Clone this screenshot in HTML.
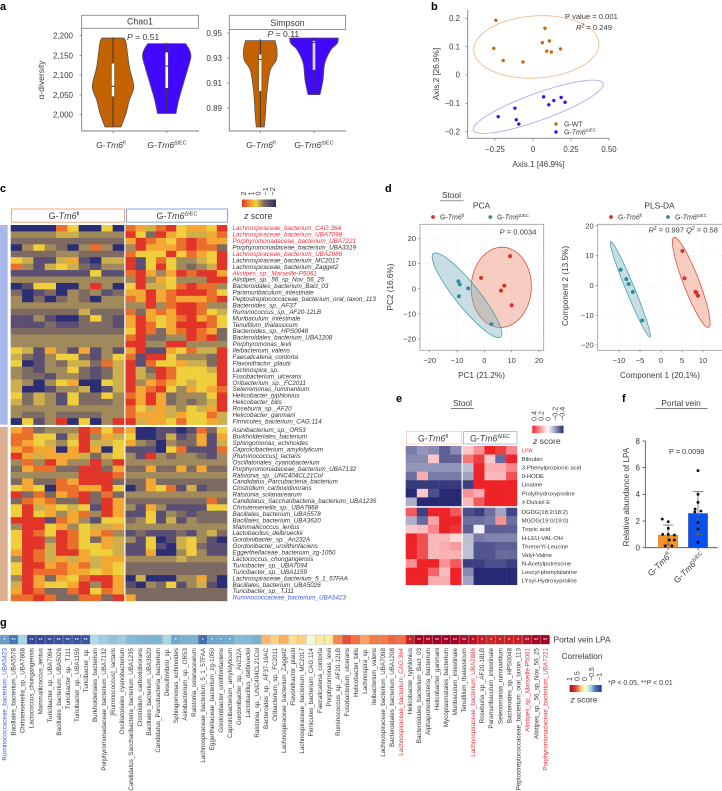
<!DOCTYPE html>
<html lang="en">
<head>
<meta charset="utf-8">
<title>Multi-panel microbiome and metabolite figure</title>
<style>
html,body{margin:0;padding:0;background:#fff;width:722px;height:791px;overflow:hidden}
svg{display:block;font-family:"Liberation Sans",Arial,sans-serif;fill:#3a3a3a}
.letter{font-size:11px;font-weight:bold;fill:#000}
</style>
</head>
<body>
<svg id="figure" xmlns="http://www.w3.org/2000/svg" width="722" height="791" viewBox="0 0 722 791">
  <defs>
    <linearGradient id="gradC"><stop offset="0" stop-color="#e23429"/><stop offset=".28" stop-color="#f4a732"/><stop offset=".42" stop-color="#f0cf3c"/><stop offset=".65" stop-color="#7d6a62"/><stop offset="1" stop-color="#2b2e72"/></linearGradient>
    <linearGradient id="gradE"><stop offset="0" stop-color="#ee2328"/><stop offset=".5" stop-color="#ffffff"/><stop offset="1" stop-color="#272a72"/></linearGradient>
    <linearGradient id="gradG"><stop offset="0" stop-color="#a50026"/><stop offset=".2" stop-color="#e34f33"/><stop offset=".38" stop-color="#fee090"/><stop offset=".5" stop-color="#ffffbf"/><stop offset=".65" stop-color="#abd9e9"/><stop offset=".8" stop-color="#4575b4"/><stop offset="1" stop-color="#313695"/></linearGradient>
  </defs>
  <text class="letter" x="0" y="10">a</text>
  <text class="letter" x="431" y="10">b</text>
  <text class="letter" x="0" y="192">c</text>
  <text class="letter" x="385" y="192">d</text>
  <text class="letter" x="396" y="402">e</text>
  <text class="letter" x="622" y="402">f</text>
  <text class="letter" x="0" y="626">g</text>
  <g id="panelA"></g>
  <g id="panelB"></g>
  <g id="panelC"></g>
  <g id="panelD"></g>
  <g id="panelE"></g>
  <g id="panelF"></g>
  <g id="panelG"></g>
</svg>
<script>
/* ---------- panel a data ---------- */
const chaoTicks = [2000, 2050, 2100, 2150, 2200];
const simpsonTicks = [0.89, 0.91, 0.93, 0.95];
const chaoFlLevels = [2194, 2180, 2122, 2071, 2037, 2003, 1969];
const chaoFlDensity = [0.44, 0.53, 0.65, 0.83, 0.65, 0.52, 0.32];
const chaoKoLevels = [2180, 2164, 2147, 2122, 2079, 2037, 2003];
const chaoKoDensity = [0.75, 0.91, 0.97, 0.87, 0.67, 0.48, 0.37];
const simpFlLevels = [0.9439, 0.9364, 0.9284, 0.9204, 0.9071, 0.8964, 0.8831, 0.8748];
const simpFlDensity = [0.59, 0.67, 0.64, 0.40, 0.29, 0.24, 0.20, 0.16];
const simpKoLevels = [0.946, 0.9417, 0.9364, 0.9257, 0.9124, 0.9007];
const simpKoDensity = [0.97, 0.93, 0.67, 0.43, 0.36, 0.24];
const chaoFlBox = [1969, 2046, 2072, 2130, 2196];
const chaoKoBox = [2002, 2067, 2123, 2158, 2182];
const simpFlBox = [0.8745, 0.9033, 0.9289, 0.9329, 0.945];
const simpKoBox = [0.9007, 0.9204, 0.9425, 0.9439, 0.9465];

/* ---------- panel b data ---------- */
const pcoaTicksX = [-0.25, 0, 0.25, 0.5];
const pcoaTicksY = [-0.2, -0.1, 0, 0.1, 0.2];
const pcoaWtX = [-0.2445, 0.079, 0.062, 0.108, 0.181, 0.09, 0.121, -0.258, -0.196, -0.066];
const pcoaWtY = [0.193, 0.165, 0.114, 0.12, 0.092, 0.084, 0.081, 0.094, 0.051, 0.046];
const pcoaKoX = [0.07, 0.137, 0.185, 0.211, 0.104, -0.119, -0.229, -0.11, -0.093];
const pcoaKoY = [-0.077, -0.09, -0.079, -0.096, -0.105, -0.117, -0.147, -0.158, -0.173];
const pcoaWtEllipse = [0.022, 0.099, 0.412, 0.008, 0.008, 0.11];
const pcoaKoEllipse = [0.035, -0.112, 0.427, 0.0825, 0.03, -0.045];

/* ---------- panel c data (colour levels 0 = -2 ... 8 = +2) ---------- */
const taxaUpperLabels = ["Lachnospiraceae_bacterium_CAG:364","Lachnospiraceae_bacterium_UBA7098","Porphyromonadaceae_bacterium_UBA7221","Porphyromonadaceae_bacterium_UBA3319","Lachnospiraceae_bacterium_UBA2886","Lachnospiraceae_bacterium_MC2017","Lachnospiraceae_bacterium_Zagget2","Alistipes_sp._Marseille-P5061","Alistipes_sp._56_sp_Nov_56_25","Bacteroidales_bacterium_Bact_03","Paramuribaculum_intestinale","Peptostreptococcaceae_bacterium_oral_taxon_113","Bacteroides_sp._AF37","Ruminococcus_sp._AF20-12LB","Muribaculum_intestinale","Tenuifilum_thalassicum","Bacteroides_sp._HPS0048","Bacteroidales_bacterium_UBA1208","Porphyromonas_levii","Ileibacterium_valens","Faecalicatena_contorta","Flavonifractor_plautii","Lachnospira_sp.","Fusobacterium_ulcerans","Oribacterium_sp._FC2011","Selenomonas_ruminantium","Helicobacter_typhlonius","Helicobacter_bilis","Roseburia_sp._AF20","Helicobacter_ganmani","Firmicutes_bacterium_CAG:114"];
const taxaLowerLabels = ["Asinibacterium_sp._OR53","Burkholderiales_bacterium","Sphingomonas_echinoides","Caproicibacterium_amylolyticum","[Ruminococcus]_lactaris","Oscillatoriales_cyanobacterium","Porphyromonadaceae_bacterium_UBA7132","Ralstonia_sp._UNC404CL21Col","Candidatus_Parcubacteria_bacterium","Clostridium_carboxidivorans","Ralstonia_solanacearum","Candidatus_Saccharibacteria_bacterium_UBA1235","Christensenella_sp._UBA7868","Bacillales_bacterium_UBA5578","Bacillales_bacterium_UBA3620","Mammaliicoccus_lentus","Lactobacillus_delbrueckii","Gordonibacter_sp._An232A","Gordonibacter_urolithinfaciens","Eggerthellaceae_bacterium_zg-1050","Lactococcus_chungangensis","Turicibacter_sp._UBA7094","Turicibacter_sp._UBA1159","Lachnospiraceae_bacterium_5_1_57FAA","Bacillales_bacterium_UBA5026","Turicibacter_sp._TJ11","Ruminococcaceae_bacterium_UBA5423"];
const taxaRed = ["Lachnospiraceae_bacterium_CAG:364","Lachnospiraceae_bacterium_UBA7098","Porphyromonadaceae_bacterium_UBA7221","Alistipes_sp._Marseille-P5061","Lachnospiraceae_bacterium_UBA2886"];
const taxaBlue = ["Ruminococcaceae_bacterium_UBA5423"];
const upperLeft = [
[0,0,0,0,7,5,0,0,5,0],[3,3,3,3,4,4,3,3,3,3],[2,2,2,2,2,2,2,2,2,2],[0,3,5,3,2,0,3,7,3,0],[2,2,2,2,3,3,2,2,2,2],
[5,4,1,1,4,6,1,0,4,4],[7,3,1,4,5,4,2,1,3,3],[1,1,1,1,1,1,1,5,1,1],[3,3,3,3,3,3,3,3,3,3],[0,1,5,5,0,0,3,8,3,0],
[2,0,1,2,0,3,2,3,1,2],[3,0,2,0,2,3,2,0,3,3],[3,3,3,3,3,3,3,3,3,3],[2,2,2,2,2,2,4,2,2,2],[1,1,3,1,0,0,2,5,2,1],
[1,1,1,2,1,1,2,2,2,1],[2,2,2,2,2,2,2,2,2,2],[3,3,3,3,3,3,3,3,3,3],[3,3,3,3,3,3,3,3,3,3],[5,4,1,6,3,1,6,1,3,1],
[4,2,1,3,5,5,2,1,3,5],[5,0,1,3,2,4,4,2,7,4],[3,2,1,3,3,5,2,1,2,4],[3,2,2,1,3,3,2,1,2,4],[4,3,0,3,5,6,0,0,5,4],
[4,0,0,1,3,3,4,0,1,4],[5,2,4,3,1,5,2,2,5,3],[4,2,4,3,1,5,2,2,2,3],[3,3,3,3,3,3,3,3,3,3],[3,2,2,3,2,2,2,2,3,3],
[0,5,1,3,8,0,5,0,3,8]];
const upperRight = [
[7,6,4,7,8,5,6,6,5,8],[8,5,2,8,6,5,4,4,6,7],[6,8,7,6,5,7,8,7,6,6],[3,8,6,6,6,7,8,7,7,2],[7,5,5,5,8,5,7,6,5,8],
[8,1,5,7,5,3,3,4,5,8],[8,1,5,8,5,3,2,3,4,8],[7,8,6,3,6,8,7,8,8,6],[3,8,3,6,5,3,3,3,8,8],[5,8,4,4,5,7,8,7,7,3],
[6,6,8,6,7,8,8,8,7,5],[7,6,8,6,7,6,6,6,7,8],[3,3,8,3,7,8,8,7,3,3],[7,2,6,7,6,8,8,7,5,4],[6,8,6,5,6,7,8,6,7,5],
[6,8,7,5,6,8,8,8,7,5],[5,8,7,2,6,7,8,7,6,2],[7,8,2,2,3,3,8,7,8,2],[8,8,3,3,8,8,3,3,3,3],[6,8,1,1,6,5,7,4,4,8],
[7,1,8,8,5,3,3,3,2,8],[8,1,7,5,5,6,4,4,2,8],[8,4,2,8,7,5,5,5,4,8],[8,4,3,8,7,5,5,5,5,8],[8,3,6,7,6,5,4,5,5,8],
[8,6,7,8,5,3,6,5,6,7],[7,6,8,6,2,3,3,3,5,8],[8,6,8,6,2,3,2,3,4,8],[7,5,4,6,4,3,5,4,6,8],[7,6,6,6,4,6,5,5,7,4],
[8,4,6,6,5,7,5,5,6,4]];
const lowerLeft = [
[6,7,2,3,3,3,8,7,5,7],[7,7,5,5,1,4,8,3,6,4],[7,6,5,4,3,5,8,4,4,5],[6,7,6,6,0,6,8,6,0,5],[8,6,4,6,6,6,4,2,4,5],
[3,7,3,8,6,3,3,8,3,8],[2,6,7,7,2,2,8,8,2,6],[3,3,3,3,3,3,8,8,8,7],[2,6,2,2,7,6,8,8,8,2],[5,6,5,0,7,7,6,6,8,5],
[8,2,7,2,6,7,8,2,7,2],[2,7,6,7,2,2,8,2,8,6],[5,8,4,6,5,4,5,1,8,6],[5,8,5,6,3,6,7,3,8,6],[8,8,8,1,7,6,3,1,5,5],
[3,8,8,5,6,3,5,4,4,6],[5,8,7,5,8,7,5,6,7,3],[5,8,8,3,8,7,5,2,6,4],[5,8,8,4,8,7,5,5,6,4],[6,8,7,4,8,8,6,5,5,4],
[3,8,7,4,6,4,6,4,6,6],[5,8,8,6,7,6,7,4,6,5],[5,8,7,7,7,6,6,5,6,5],[3,8,6,2,6,5,7,8,8,6],[4,8,6,5,5,6,8,3,8,6],
[6,8,7,2,2,7,8,5,7,6],[7,7,8,7,2,2,7,7,2,8]];
const lowerRight = [
[6,0,0,1,1,0,1,7,2,5],[5,0,0,1,4,1,2,6,1,6],[6,3,2,0,3,2,2,6,1,4],[1,1,1,0,5,7,1,1,1,7],[3,1,8,3,2,3,3,2,1,3],
[3,3,3,3,3,3,3,3,3,3],[2,2,6,2,2,6,2,6,2,2],[3,3,3,3,3,3,3,3,3,3],[2,2,6,2,2,2,2,2,2,2],[0,2,6,5,7,1,4,1,2,2],
[3,3,3,3,3,3,3,3,3,3],[2,2,2,2,2,2,2,2,7,2],[3,1,6,3,1,1,1,1,5,5],[1,1,5,1,3,2,1,2,2,2],[2,3,5,1,4,1,3,2,2,2],
[3,3,3,3,3,3,3,3,3,3],[1,2,1,1,1,2,1,3,4,2],[3,1,5,0,1,4,5,3,1,0],[1,1,5,1,0,4,5,2,1,1],[1,1,6,0,0,3,5,3,1,1],
[3,3,3,3,3,4,3,3,3,3],[2,2,2,2,2,2,2,2,2,2],[2,2,2,2,2,2,2,2,2,2],[0,4,0,0,0,3,3,6,2,0],[1,0,3,2,5,1,3,4,1,0],
[2,2,2,2,2,2,2,2,2,2],[6,2,2,2,2,2,2,2,2,2]];
const taxaLegendTicks = ["2","1","0","−1","−2"];

/* ---------- panel d data ---------- */
const pcaTicks = [-20, -10, 0, 10, 20];
const pcaFlX = [9.4, -1.2, 7.3, 6.1, 10];
const pcaFlY = [12.9, 4.3, 1.2, -0.8, -6.6];
const pcaKoX = [-9.5, -9, -5.9, -9.3, 2.6];
const pcaKoY = [2.9, 1.7, 0.1, -3, -14.1];
const pcaFlEllipse = [6.2, 0.53, 0.98, 15.9, 10.98, -1.05];
const pcaKoEllipse = [-6.34, -2.63, 12.3, -16.6, 3.4, 2.9];
const plsTicksX = [-10, -5, 0, 5, 10];
const plsTicksY = [-20, -10, 0, 10, 20];
const plsFlX = [5.1, 5.6, 8.2, 8.4, 8.8];
const plsFlY = [11.5, 2.4, -2.2, -2.5, -3.5];
const plsKoX = [-9.6, -8.25, -7.7, -6.7, -4.5];
const plsKoY = [5.25, 2.1, 0.45, -2.2, -11.8];
const plsFlEllipse = [7.2, 1, 4.13, -15.1, 1.75, 0.96];
const plsKoEllipse = [-7.3, -1.34, 4.68, -16, 0.95, 0.56];

/* ---------- panel e data ---------- */
const metabUpperLabels = ["LPA","Bilirubin","3-Phenylpropionic acid","9-HODE","Linatine","Prolylhydroxyproline","±-Dulciol E"];
const metabLowerLabels = ["DGDG(18:2/18:2)","MGDG(19:0/19:0)","Tropic acid","H-LEU-VAL-OH","ThreonYl-Leucine","Valyl-Valine","N-Acetylputrescine","Leucyl-phenylalanine","LYsyl-Hydroxyproline"];
const metabUpper = [
[-.25,-.2,-.22,-.3,-.22,.1,.2,.4,.35,.22],[-.22,-.22,.1,-.3,-.3,.25,.35,.1,-.28,.4],[-.2,-.2,-.2,-.2,-.2,-.12,.4,.15,.15,.22],
[-.27,.15,-.25,-.25,-.25,-.17,.4,.13,.13,.32],[-.37,-.37,-.37,-.37,-.37,-.36,.4,.4,.4,.4],[-.4,.1,-.33,-.4,-.4,.2,.15,.4,.4,.4],[-.15,-.4,-.4,-.4,-.4,.13,.3,.4,.4,.4]];
const metabLower = [
[.3,-.36,.4,.4,.3,-.33,-.36,-.27,-.17,-.35],[-.15,-.28,.17,.4,.4,-.27,-.27,-.25,.2,-.27],[.1,.12,.22,.4,.37,-.3,-.03,-.3,-.3,-.3],
[.4,.32,.13,.13,.07,-.12,-.25,-.23,-.23,-.23],[.4,.32,.13,.15,.18,-.12,-.32,-.32,-.3,-.3],[.4,.32,.13,.14,.14,-.12,-.32,-.32,-.28,-.28],
[.2,.4,.4,.2,.3,-.36,-.36,-.33,-.33,-.36],[.4,.4,.28,.12,.4,-.22,-.4,-.4,-.4,-.4],[.4,.4,.15,.15,.4,-.17,-.4,-.4,-.4,-.4]];
const metabLegendTicks = ["0.4","0.2","0","−0.2","−0.4"];

/* ---------- panel f data ---------- */
const lpaTicks = [0, 2, 4, 6, 8];
const lpaBars = [0.95, 2.57];
const lpaErrUpper = [1.7, 4.2];
const lpaErrLower = [0.2, 1.0];
const lpaFlValues = [2.15, 1.95, 1.45, 1.0, 1.0, 0.95, 0.58, 0.13, 0.13, 0.58];
const lpaFlJitter = [-0.59, 0.03, 0.03, -0.55, 0.03, 0.66, 0.14, -0.28, 0.41, 0.66];
const lpaKoValues = [5.78, 4, 3.4, 2.9, 2.75, 2.68, 1.88, 1.4, 0.4];
const lpaKoJitter = [0, 0, 0, -0.3, 0.3, -0.33, 0, 0, 0];

/* ---------- panel g data ---------- */
const corrLabels = ["Ruminococcaceae_bacterium_UBA5423","Bacillales_bacterium_UBA5578","Christensenella_sp._UBA7868","Lactococcus_chungangensis","Mammaliicoccus_lentus","Turicibacter_sp._UBA7094","Bacillales_bacterium_UBA5026","Turicibacter_sp._TJ11","Turicibacter_sp._UBA1159","Turicibacter_sp.","Burkholderiales_bacterium","Porphyromonadaceae_bacterium_UBA7132","[Ruminococcus]_lactaris","Oscillatoriales_cyanobacterium","Candidatus_Saccharibacteria_bacterium_UBA1235","Clostridium_carboxidivorans","Bacillales_bacterium_UBA3620","Candidatus_Parcubacteria_bacterium","Desulfovibrio_sp.","Sphingomonas_echinoides","Asinibacterium_sp._OR53","Ralstonia_solanacearum","Lachnospiraceae_bacterium_5_1_57FAA","Eggerthellaceae_bacterium_zg-1050","Gordonibacter_urolithinfaciens","Caproicibacterium_amylolyticum","Gordonibacter_sp._An232A","Lactobacillus_delbrueckii","Ralstonia_sp._UNC404CL21Col","Bacteroides_sp._AF37-16AC","Oribacterium_sp._FC2011","Lachnospiraceae_bacterium_Zagget2","Flavonifractor_plautii","Lachnospiraceae_bacterium_MC2017","Firmicutes_bacterium_CAG:114","Faecalicatena_contorta","Porphyromonas_levii","Ruminococcus_sp._AF20-12LB","Fusobacterium_ulcerans","Helicobacter_bilis","Lachnospira_sp.","Ileibacterium_valens","Lachnospiraceae_bacterium_UBA7098","Bacteroidales_bacterium_UBA1208","Lachnospiraceae_bacterium_CAG:364","Helicobacter_typhlonius","Bacteroidales_bacterium_Bact_03","Alphaproteobacteria_bacterium","Helicobacter_ganmani","Mycoplasmatales_bacterium","Muribaculum_intestinale","Tenuifilum_thalassicum","Lachnospiraceae_bacterium_UBA2886","Roseburia_sp._AF20-18LB","Paramuribaculum_intestinale","Selenomonas_ruminantium","Bacteroides_sp._HPS0048","Peptostreptococcaceae_bacterium_oral_taxon_113","Alistipes_sp._Marseille-P5061","Alistipes_sp._56_sp_Nov_56_25","Porphyromonadaceae_bacterium_UBA7221"];
const corrValues = [-.65,-.8,-.42,-.95,-.95,-.93,-.92,-.9,-.9,-.9,-.38,-.45,-.5,-.46,-.53,-.56,-.57,-.57,-.42,-.62,-.58,-.58,-.83,-.62,-.62,-.61,-.53,-.55,-.58,.37,.25,.4,.2,.27,-.08,.12,.13,.52,.7,.6,.43,.56,.55,.63,.6,.85,1,.97,1,1,1,.96,.92,.87,.84,.86,.86,.86,.93,.98,1];
const corrStars = ["*","**","","**","**","**","**","**","**","**","","","","","","","","","","*","","","*","*","*","*","","","","","","","","","","","","","","","","","","","","*","**","**","**","**","**","**","*","*","*","*","*","*","**","**","**"];
const corrLegendTicks = ["1","0.5","0","−0.5","−1"];

/* ---------- helpers ---------- */
const NS = "http://www.w3.org/2000/svg";
const INK = "#3a3a3a", AXIS = "#808080";
function mk(tag, parent, attrs) {
  const e = document.createElementNS(NS, tag);
  for (const k in attrs) e.setAttribute(k, attrs[k]);
  parent.appendChild(e);
  return e;
}
function txt(parent, x, y, s, size, attrs) {
  const e = mk("text", parent, Object.assign({x: x, y: y, "font-size": size}, attrs || {}));
  e.textContent = s;
  return e;
}
function linear(d0, d1, r0, r1) { return v => r0 + (v - d0) * (r1 - r0) / (d1 - d0); }
function strainLabel(parent, x, y, suffix, size, attrs) {
  const e = mk("text", parent, Object.assign({x: x, y: y, "font-size": size}, attrs || {}));
  const a = mk("tspan", e, {}); a.textContent = "G-";
  const b = mk("tspan", e, {"font-style": "italic"}); b.textContent = "Tm6";
  const c = mk("tspan", e, {"font-size": size * 0.62, dy: -size * 0.4}); c.textContent = suffix;
  return e;
}
function mixHex(a, b, t) {
  const p = h => [1, 3, 5].map(i => parseInt(h.substr(i, 2), 16));
  const A = p(a), B = p(b);
  return "rgb(" + A.map((v, i) => Math.round(v + (B[i] - v) * t)).join(",") + ")";
}
function ramp(stops, t) {
  t = Math.max(0, Math.min(1, t));
  const f = t * (stops.length - 1), i = Math.min(stops.length - 2, Math.floor(f));
  return mixHex(stops[i], stops[i + 1], f - i);
}
function ellipsePath(p, fx, fy) {
  let d = "";
  for (let i = 0; i <= 72; i++) {
    const t = i / 72 * 2 * Math.PI;
    const X = p[0] + p[2] * Math.cos(t) + p[4] * Math.sin(t);
    const Y = p[1] + p[3] * Math.cos(t) + p[5] * Math.sin(t);
    d += (i ? "L" : "M") + fx(X).toFixed(2) + " " + fy(Y).toFixed(2);
  }
  return d + "Z";
}
function smoothEdge(pts) {
  let d = "";
  for (let i = 0; i < pts.length - 1; i++) {
    const p0 = pts[Math.max(0, i - 1)], p1 = pts[i], p2 = pts[i + 1], p3 = pts[Math.min(pts.length - 1, i + 2)];
    d += "C" + (p1[0] + (p2[0] - p0[0]) / 6).toFixed(2) + " " + (p1[1] + (p2[1] - p0[1]) / 6).toFixed(2) + " " +
      (p2[0] - (p3[0] - p1[0]) / 6).toFixed(2) + " " + (p2[1] - (p3[1] - p1[1]) / 6).toFixed(2) + " " +
      p2[0].toFixed(2) + " " + p2[1].toFixed(2);
  }
  return d;
}

/* ---------- panel a ---------- */
(function () {
  const g = document.getElementById("panelA");
  const chaoY = linear(2000, 2200, 114.7, 35.7), simpY = linear(0.89, 0.95, 108, 33);
  const widthScale = 25;
  function violin(levels, density, box, cx, fy, fill, boxFill, name) {
    const right = levels.map((v, i) => [cx + density[i] * widthScale, fy(v)]);
    const left = levels.map((v, i) => [cx - density[i] * widthScale, fy(v)]).reverse();
    const d = "M" + (cx - density[0] * widthScale) + " " + fy(levels[0]) + "L" + right[0][0] + " " + right[0][1] +
      smoothEdge(right) + "L" + left[0][0] + " " + left[0][1] + smoothEdge(left) + "Z";
    const body = mk("path", g, {d: d, fill: fill, stroke: "#555", "stroke-width": 0.8});
    
    
    const whisker = mk("line", g, {x1: cx, x2: cx, y1: fy(box[0]), y2: fy(box[4]), stroke: "#3c3a3a", "stroke-width": 1});
    
    
    const rect = mk("rect", g, {x: cx - 1.5, width: 3, y: fy(box[3]), height: fy(box[1]) - fy(box[3]), fill: boxFill, stroke: "#444", "stroke-width": 0.4});
    
    
    const med = mk("line", g, {x1: cx - 1.5, x2: cx + 1.5, y1: fy(box[2]), y2: fy(box[2]), stroke: "#333", "stroke-width": 1});
    
    
  }
  function frame(x0, x1, yTop, yBot, title, titleX) {
    const strip = mk("rect", g, {x: x0, y: 15.3, width: x1 - x0, height: yTop - 15.3, fill: "#fff", stroke: "#8a8a8a", "stroke-width": 0.9});
    
    
    const t = txt(g, titleX, yTop - 3.7, title, 8.8, {"text-anchor": "middle", fill: INK});
    
    
    const ax = mk("path", g, {d: "M" + x0 + " " + yTop + "V" + yBot + "H" + (x1 + 0.5), fill: "none", stroke: AXIS, "stroke-width": 0.9});
    
    
  }
  frame(81.7, 198.5, 28.3, 131, "Chao1", 140);
  frame(229.3, 345.6, 29.5, 131, "Simpson", 287.5);
  chaoTicks.forEach(v => {
    const tk = mk("line", g, {x1: 79.5, x2: 81.7, y1: chaoY(v), y2: chaoY(v), stroke: AXIS, "stroke-width": 0.8});
    
    
    const lb = txt(g, 73, chaoY(v) + 2.8, v.toLocaleString("en-US"), 8, {"text-anchor": "end", fill: INK});
    
    
  });
  simpsonTicks.forEach(v => {
    const tk = mk("line", g, {x1: 227, x2: 229.3, y1: simpY(v), y2: simpY(v), stroke: AXIS, "stroke-width": 0.8});
    
    
    const lb = txt(g, 222, simpY(v) + 2.8, v.toFixed(2), 8, {"text-anchor": "end", fill: INK});
    
    
  });
  violin(chaoFlLevels, chaoFlDensity, chaoFlBox, 113, chaoY, "#c46200", "#fff", "chao1-fl");
  violin(chaoKoLevels, chaoKoDensity, chaoKoBox, 166.7, chaoY, "#4208ff", "#fff", "chao1-ko");
  violin(simpFlLevels, simpFlDensity, simpFlBox, 260.3, simpY, "#c46200", "#fff", "simpson-fl");
  violin(simpKoLevels, simpKoDensity, simpKoBox, 314, simpY, "#4208ff", "#d4d4d4", "simpson-ko");
  [113, 166.7, 260.3, 314].forEach(x => {
    const tk = mk("line", g, {x1: x, x2: x, y1: 131, y2: 133.2, stroke: AXIS, "stroke-width": 0.8});
    
    
  });
  [[111, "fl"], [167, "ΔIEC"], [261, "fl"], [314, "ΔIEC"]].forEach(c => {
    const e = strainLabel(g, c[0], 148, c[1], 8.6, {"text-anchor": "middle", fill: INK});
    
    
  });
  const yl = txt(g, 0, 0, "α-diversity", 8.5, {"text-anchor": "middle", fill: INK, transform: "translate(44,80) rotate(-90)"});
  
  
  [[127, 40, "0.51"], [267.5, 37, "0.11"]].forEach(c => {
    const e = mk("text", g, {x: c[0], y: c[1], "font-size": 8.6, fill: INK});
    const i = mk("tspan", e, {"font-style": "italic"}); i.textContent = "P";
    const r = mk("tspan", e, {}); r.textContent = " = " + c[2];
    
    
  });
})();

/* ---------- panel b ---------- */
(function () {
  const g = document.getElementById("panelB");
  const fx = linear(0, 0.5, 533, 609), fy = linear(-0.2, 0.2, 131.7, 18.3);
  const ax = mk("path", g, {d: "M467.7 10V138.3H609", fill: "none", stroke: AXIS, "stroke-width": 0.9});
  
  
  pcoaTicksX.forEach(v => {
    const tk = mk("line", g, {x1: fx(v), x2: fx(v), y1: 138.3, y2: 140.5, stroke: AXIS, "stroke-width": 0.8});
    
    
    const lb = txt(g, fx(v), 152, v === 0 ? "0" : v.toFixed(2).replace("-", "−"), 7.8, {"text-anchor": "middle", fill: INK});
    
    
  });
  pcoaTicksY.forEach(v => {
    const tk = mk("line", g, {x1: 465.5, x2: 467.7, y1: fy(v), y2: fy(v), stroke: AXIS, "stroke-width": 0.8});
    
    
    const lb = txt(g, 460, fy(v) + 2.7, v === 0 ? "0" : v.toFixed(1).replace("-", "−"), 7.8, {"text-anchor": "end", fill: INK});
    
    
  });
  const e1 = mk("path", g, {d: ellipsePath(pcoaWtEllipse, fx, fy), fill: "none", stroke: "#efb483", "stroke-width": 0.8});
  
  
  const e2 = mk("path", g, {d: ellipsePath(pcoaKoEllipse, fx, fy), fill: "none", stroke: "#a8a0f5", "stroke-width": 0.8});
  
  
  pcoaWtX.forEach((v, i) => {
    const c = mk("circle", g, {cx: fx(v), cy: fy(pcoaWtY[i]), r: 1.7, fill: "#c8690a"});
    
    
  });
  pcoaKoX.forEach((v, i) => {
    const c = mk("circle", g, {cx: fx(v), cy: fy(pcoaKoY[i]), r: 1.7, fill: "#3d0df0"});
    
    
  });
  const t1 = txt(g, 565, 19, "P value = 0.001", 7.6, {fill: INK});
  
  
  const t2 = mk("text", g, {x: 576, y: 30, "font-size": 7.6, fill: INK});
  const r = mk("tspan", t2, {"font-style": "italic"}); r.textContent = "R";
  const r2 = mk("tspan", t2, {"font-size": 5, dy: -2.5}); r2.textContent = "2";
  const r3 = mk("tspan", t2, {dy: 2.5}); r3.textContent = " = 0.249";
  
  
  const d1 = mk("circle", g, {cx: 556, cy: 124, r: 1.7, fill: "#c8690a"});
  
  
  const d2 = mk("circle", g, {cx: 556, cy: 132, r: 1.7, fill: "#3d0df0"});
  
  
  const l1 = txt(g, 564, 126.5, "G-WT", 7, {fill: INK});
  
  
  const l2 = strainLabel(g, 564, 134.5, "ΔIEC", 7, {fill: INK});
  
  
  const xt = txt(g, 538.5, 167, "Axis.1 [46.9%]", 8.2, {"text-anchor": "middle", fill: INK});
  
  
  const yt = txt(g, 0, 0, "Axis.2 [26.9%]", 8.2, {"text-anchor": "middle", fill: INK, transform: "translate(439,74) rotate(-90)"});
  
  
})();

/* ---------- panel c ---------- */
(function () {
  const g = document.getElementById("panelC");
  const levelColors = ["#2b2e72", "#5a4f72", "#7d6a62", "#a08a5c", "#cdb04d", "#f0cf3c", "#f4a732", "#ea6f2c", "#e23429"];
  const colorOf = v => ramp(levelColors, v / 8);
  const rowH = 6.44;
  function block(rows, x0, x1, y0, name) {
    const w = (x1 - x0) / 10;
    rows.forEach((row, r) => row.forEach((v, c) => {
      const cell = mk("rect", g, {x: x0 + c * w, y: y0 + r * rowH, width: w + 0.3, height: rowH + 0.3, fill: colorOf(v)});
      
      
    }));
  }
  block(upperLeft, 10.7, 124, 225, "upper-fl");
  block(upperRight, 125.5, 227, 225, "upper-ko");
  block(lowerLeft, 10.7, 124, 427, "lower-fl");
  block(lowerRight, 125.5, 227, 427, "lower-ko");
  const s1 = mk("rect", g, {x: 0, y: 225, width: 7.7, height: 199.6, fill: "#a8b8ea"});
  
  
  const s2 = mk("rect", g, {x: 0, y: 427, width: 7.7, height: 174, fill: "#dcb091"});
  
  
  function labels(list, y0) {
    list.forEach((s, i) => {
      const fill = taxaRed.includes(s) ? "#f2303c" : taxaBlue.includes(s) ? "#3b5bf0" : "#333";
      const t = txt(g, 232.5, y0 + i * rowH + 5.2, s, 6.3, {"font-style": "italic", fill: fill});
      
      
    });
  }
  labels(taxaUpperLabels, 225);
  labels(taxaLowerLabels, 427);
  const b1 = mk("rect", g, {x: 11.5, y: 209, width: 113, height: 13.2, fill: "#fff", stroke: "#f0a878", "stroke-width": 1});
  
  
  const b2 = mk("rect", g, {x: 126.5, y: 209, width: 101, height: 13.2, fill: "#fff", stroke: "#8aa6dc", "stroke-width": 1});
  
  
  const l1 = strainLabel(g, 64, 219, "fl", 9, {"text-anchor": "middle", fill: INK});
  
  
  const l2 = strainLabel(g, 177, 219, "ΔIEC", 9, {"text-anchor": "middle", fill: INK});
  
  
  const cb = mk("rect", g, {x: 242, y: 199.5, width: 34, height: 7.5, fill: "url(#gradC)"});
  
  
  taxaLegendTicks.forEach((s, i) => {
    const t = txt(g, 0, 0, s, 7.3, {transform: "translate(" + (246 + i * 7.3) + ",195.5) rotate(-90)", fill: INK});
    
    
  });
  const z = mk("text", g, {x: 244, y: 219, "font-size": 8.8, fill: INK});
  const zi = mk("tspan", z, {"font-style": "italic"}); zi.textContent = "z";
  const zs = mk("tspan", z, {}); zs.textContent = " score";
  
  
})();

/* ---------- panel d ---------- */
(function () {
  const g = document.getElementById("panelD");
  const top = 224.3, bot = 350.3;
  function scatter(x0, x1, fx, fy, ticksX, ticksY, ell, ptsFl, ptsKo, name) {
    const box = mk("rect", g, {x: x0, y: top, width: x1 - x0, height: bot - top, fill: "#fff", stroke: "#9a9a9a", "stroke-width": 0.8});
    
    
    ticksX.forEach(v => {
      const gl = mk("line", g, {x1: fx(v), x2: fx(v), y1: top, y2: bot, stroke: "#e6e6e6", "stroke-width": 0.5, "stroke-dasharray": "1 1.2"});
      
      
      const tk = mk("line", g, {x1: fx(v), x2: fx(v), y1: bot, y2: bot + 2, stroke: AXIS, "stroke-width": 0.7});
      
      
      const lb = txt(g, fx(v), 363, String(v).replace("-", "−"), 7.5, {"text-anchor": "middle", fill: INK});
      
      
    });
    ticksY.forEach(v => {
      const gl = mk("line", g, {x1: x0, x2: x1, y1: fy(v), y2: fy(v), stroke: "#e6e6e6", "stroke-width": 0.5, "stroke-dasharray": "1 1.2"});
      
      
      const tk = mk("line", g, {x1: x0 - 2, x2: x0, y1: fy(v), y2: fy(v), stroke: AXIS, "stroke-width": 0.7});
      
      
      const lb = txt(g, x0 - 4, fy(v) + 2.7, String(v).replace("-", "−"), 7.5, {"text-anchor": "end", fill: INK});
      
      
    });
    const eFl = mk("path", g, {d: ellipsePath(ell[0], fx, fy), fill: "#e9886a", "fill-opacity": 0.42, stroke: "#d9533c", "stroke-width": 0.8});
    
    
    const eKo = mk("path", g, {d: ellipsePath(ell[1], fx, fy), fill: "#7fb0bc", "fill-opacity": 0.42, stroke: "#4a9fb0", "stroke-width": 0.8});
    
    
    ptsFl[0].forEach((v, i) => {
      const c = mk("circle", g, {cx: fx(v), cy: fy(ptsFl[1][i]), r: 2, fill: "#d7302a"});
      
      
    });
    ptsKo[0].forEach((v, i) => {
      const c = mk("circle", g, {cx: fx(v), cy: fy(ptsKo[1][i]), r: 2, fill: "#2e8f9f"});
      
      
    });
  }
  scatter(420, 543.7, linear(-20, 20, 429.7, 539), linear(-20, 20, 339, 238.3), pcaTicks, pcaTicks,
    [pcaFlEllipse, pcaKoEllipse], [pcaFlX, pcaFlY], [pcaKoX, pcaKoY], "pca");
  scatter(597.7, 722.5, linear(-10, 10, 619, 703), linear(-20, 20, 345, 225.7), plsTicksX, plsTicksY,
    [plsFlEllipse, plsKoEllipse], [plsFlX, plsFlY], [plsKoX, plsKoY], "plsda");
  const st = txt(g, 451.5, 198, "Stool", 8.4, {"text-anchor": "middle", fill: INK});
  
  
  const ul = mk("line", g, {x1: 440, x2: 463.5, y1: 200.8, y2: 200.8, stroke: "#555", "stroke-width": 0.7});
  
  
  const t1 = txt(g, 481.5, 208.5, "PCA", 8.4, {"text-anchor": "middle", fill: INK});
  
  
  const t2 = txt(g, 659.5, 208.5, "PLS-DA", 8.4, {"text-anchor": "middle", fill: INK});
  
  
  [[433, 440, "fl", "#d7302a"], [490.3, 497, "ΔIEC", "#2e8f9f"], [611, 618, "fl", "#d7302a"], [668, 675, "ΔIEC", "#2e8f9f"]].forEach(c => {
    const d = mk("circle", g, {cx: c[0], cy: 217, r: 1.9, fill: c[3]});
    
    
    const l = strainLabel(g, c[1], 219.6, c[2], 7, {fill: INK});
    
    
  });
  const p = mk("text", g, {x: 499.5, y: 234.5, "font-size": 7.6, fill: INK});
  const pi = mk("tspan", p, {"font-style": "italic"}); pi.textContent = "P";
  const pr = mk("tspan", p, {}); pr.textContent = " = 0.0034";
  
  
  const q = mk("text", g, {x: 648.5, y: 232.5, "font-size": 7.5, fill: INK});
  const q1 = mk("tspan", q, {"font-style": "italic"}); q1.textContent = "R";
  const q2 = mk("tspan", q, {"font-size": 5, dy: -2.5}); q2.textContent = "2";
  const q3 = mk("tspan", q, {dy: 2.5}); q3.textContent = " = 0.997 ";
  const q4 = mk("tspan", q, {"font-style": "italic"}); q4.textContent = "Q";
  const q5 = mk("tspan", q, {"font-size": 5, dy: -2.5}); q5.textContent = "2";
  const q6 = mk("tspan", q, {dy: 2.5}); q6.textContent = " = 0.58";
  
  
  [[481.5, 378, "PC1 (21.2%)", "pca-x-axis-title"], [660, 378, "Component 1 (20.1%)", "plsda-x-axis-title"]].forEach(c => {
    const e = txt(g, c[0], c[1], c[2], 8.2, {"text-anchor": "middle", fill: INK});
    
    
  });
  [[393, 287, "PC2 (16.6%)", "pca-y-axis-title"], [568, 286, "Component 2 (13.5%)", "plsda-y-axis-title"]].forEach(c => {
    const e = txt(g, 0, 0, c[2], 8.2, {"text-anchor": "middle", fill: INK, transform: "translate(" + c[0] + "," + c[1] + ") rotate(-90)"});
    
    
  });
})();

/* ---------- panel e ---------- */
(function () {
  const g = document.getElementById("panelE");
  const colorOf = v => v >= 0 ? mixHex("#ffffff", "#ee2328", Math.min(1, v / 0.4)) : mixHex("#ffffff", "#272a72", Math.min(1, -v / 0.4));
  const rowH = 8.57;
  function block(rows, labels, y0) {
    rows.forEach((row, r) => {
      row.forEach((v, c) => {
        const x = c < 5 ? 405.7 + c * 11.13 : 462.7 + (c - 5) * 10.87;
        const w = c < 5 ? 11.13 : 10.87;
        const cell = mk("rect", g, {x: x, y: y0 + r * rowH, width: w + 0.2, height: rowH + 0.2, fill: colorOf(v)});
        
        
      });
      const t = txt(g, 521.7, y0 + r * rowH + 6.4, labels[r], 5.9, {fill: labels[r] === "LPA" ? "#f2303c" : "#333"});
      
      
    });
  }
  block(metabUpper, metabUpperLabels, 446);
  block(metabLower, metabLowerLabels, 507.7);
  const st = txt(g, 462.5, 406, "Stool", 8.4, {"text-anchor": "middle", fill: INK});
  
  
  const ul = mk("line", g, {x1: 451, x2: 474, y1: 408.5, y2: 408.5, stroke: "#555", "stroke-width": 0.7});
  
  
  const b1 = mk("rect", g, {x: 406.5, y: 431.5, width: 55, height: 12.5, fill: "#fff", stroke: "#f3d2bb", "stroke-width": 0.9});
  
  
  const b2 = mk("rect", g, {x: 463.5, y: 431.5, width: 53.5, height: 12.5, fill: "#fff", stroke: "#a8bbdc", "stroke-width": 0.9});
  
  
  const l1 = strainLabel(g, 433, 441.5, "fl", 8.8, {"text-anchor": "middle", fill: INK});
  
  
  const l2 = strainLabel(g, 490, 441.5, "ΔIEC", 8.8, {"text-anchor": "middle", fill: INK});
  
  
  const cb = mk("rect", g, {x: 532.3, y: 425.7, width: 31.2, height: 7.5, fill: "url(#gradE)"});
  
  
  metabLegendTicks.forEach((s, i) => {
    const t = txt(g, 0, 0, s, 7.2, {transform: "translate(" + (536.5 + i * 7) + ",421) rotate(-90)", fill: INK});
    
    
  });
  const z = mk("text", g, {x: 533, y: 444, "font-size": 8.6, fill: INK});
  const zi = mk("tspan", z, {"font-style": "italic"}); zi.textContent = "z";
  const zs = mk("tspan", z, {}); zs.textContent = " score";
  
  
})();

/* ---------- panel f ---------- */
(function () {
  const g = document.getElementById("panelF");
  const fy = linear(0, 8, 547.7, 441);
  const centers = [668, 698], halfW = 9.7;
  const colors = ["#f7931e", "#0a4ff0"];
  const t = txt(g, 681, 406, "Portal vein", 8.4, {"text-anchor": "middle", fill: INK});
  
  
  const ul = mk("line", g, {x1: 655.5, x2: 707.5, y1: 408.5, y2: 408.5, stroke: "#555", "stroke-width": 0.7});
  
  
  const ax = mk("path", g, {d: "M645.3 " + fy(8) + "V" + fy(0) + "H717.7", fill: "none", stroke: "#444", "stroke-width": 0.8});
  
  
  lpaTicks.forEach(v => {
    const tk = mk("line", g, {x1: 642.5, x2: 645.3, y1: fy(v), y2: fy(v), stroke: "#444", "stroke-width": 0.8});
    
    
    const lb = txt(g, 640, fy(v) + 2.8, String(v), 8, {"text-anchor": "end", fill: INK});
    
    
  });
  lpaBars.forEach((v, i) => {
    const bar = mk("rect", g, {x: centers[i] - halfW, width: 2 * halfW, y: fy(v), height: fy(0) - fy(v), fill: colors[i], stroke: "#666", "stroke-width": 0.3});
    
    
    const el = mk("path", g, {d: "M" + (centers[i] - 5) + " " + fy(lpaErrUpper[i]) + "H" + (centers[i] + 5) + "M" + centers[i] + " " + fy(lpaErrUpper[i]) + "V" + fy(lpaErrLower[i]) + "M" + (centers[i] - 5) + " " + fy(lpaErrLower[i]) + "H" + (centers[i] + 5), fill: "none", stroke: "#666", "stroke-width": 0.8});
    
    
    const tk = mk("line", g, {x1: centers[i], x2: centers[i], y1: fy(0), y2: fy(0) + 2.5, stroke: "#444", "stroke-width": 0.8});
    
    
  });
  lpaFlValues.forEach((v, i) => {
    const c = mk("circle", g, {cx: centers[0] + lpaFlJitter[i] * halfW, cy: fy(v), r: 1.45, fill: "#111"});
    
    
  });
  lpaKoValues.forEach((v, i) => {
    const c = mk("circle", g, {cx: centers[1] + lpaKoJitter[i] * halfW, cy: fy(v), r: 1.45, fill: "#111"});
    
    
  });
  const p = txt(g, 669, 454, "P = 0.0098", 7.3, {fill: INK});
  
  
  const yt = txt(g, 0, 0, "Relative abundance of LPA", 8.2, {"text-anchor": "middle", fill: INK, transform: "translate(629,497) rotate(-90)"});
  
  
  const x1 = strainLabel(g, 0, 0, "fl", 8.6, {"text-anchor": "end", fill: INK, transform: "translate(672,556) rotate(-45)"});
  
  
  const x2 = strainLabel(g, 0, 0, "ΔIEC", 8.6, {"text-anchor": "end", fill: INK, transform: "translate(705,556) rotate(-45)"});
  
  
})();

/* ---------- panel g ---------- */
(function () {
  const g = document.getElementById("panelG");
  const rdylbu = ["#313695", "#4575b4", "#74add1", "#abd9e9", "#e0f3f8", "#ffffbf", "#fee090", "#fdae61", "#f46d43", "#d73027", "#a50026"];
  const colorOf = v => ramp(rdylbu, (v + 1) / 2);
  const cellW = 9.01, y0 = 635, h = 9.2;
  const redNames = ["Lachnospiraceae_bacterium_CAG:364", "Lachnospiraceae_bacterium_UBA2886", "Alistipes_sp._Marseille-P5061", "Porphyromonadaceae_bacterium_UBA7221"];
  corrValues.forEach((v, i) => {
    const cell = mk("rect", g, {x: i * cellW, y: y0, width: cellW, height: h, fill: colorOf(v), stroke: "#a8a8a8", "stroke-width": 0.35});
    
    
    if (corrStars[i]) {
      const s = txt(g, i * cellW + cellW / 2, y0 + 7, corrStars[i], 5.4, {"text-anchor": "middle", fill: "#fff"});
      
      
    }
    const name = corrLabels[i];
    const fill = i === 0 ? "#3b5bf0" : redNames.includes(name) ? "#f2303c" : "#3a3a3a";
    const t = txt(g, 0, 0, name, 6.25, {"text-anchor": "end", fill: fill, transform: "translate(" + (i * cellW + cellW / 2 + 2.2) + ",648) rotate(-90)"});
    
    
  });
  const pv = txt(g, 553.5, 642.5, "Portal vein LPA", 8.4, {fill: INK});
  
  
  const co = txt(g, 561.5, 659, "Correlation", 8.4, {fill: INK});
  
  
  const cb = mk("rect", g, {x: 569.7, y: 685, width: 32, height: 7, fill: "url(#gradG)"});
  
  
  corrLegendTicks.forEach((s, i) => {
    const t = txt(g, 0, 0, s, 7, {transform: "translate(" + (572.2 + i * 7.3) + ",681) rotate(-90)", fill: INK});
    
    
  });
  const z = mk("text", g, {x: 570.5, y: 702.5, "font-size": 8.4, fill: INK});
  const zi = mk("tspan", z, {"font-style": "italic"}); zi.textContent = "z";
  const zs = mk("tspan", z, {}); zs.textContent = " score";
  
  
  const n = mk("text", g, {x: 608, y: 684.8, "font-size": 7, fill: INK});
  const a1 = mk("tspan", n, {}); a1.textContent = "*";
  const a2 = mk("tspan", n, {"font-style": "italic"}); a2.textContent = "P";
  const a3 = mk("tspan", n, {}); a3.textContent = " < 0.05, **";
  const a4 = mk("tspan", n, {"font-style": "italic"}); a4.textContent = "P";
  const a5 = mk("tspan", n, {}); a5.textContent = " < 0.01";
  
  
})();
</script>
</body>
</html>
